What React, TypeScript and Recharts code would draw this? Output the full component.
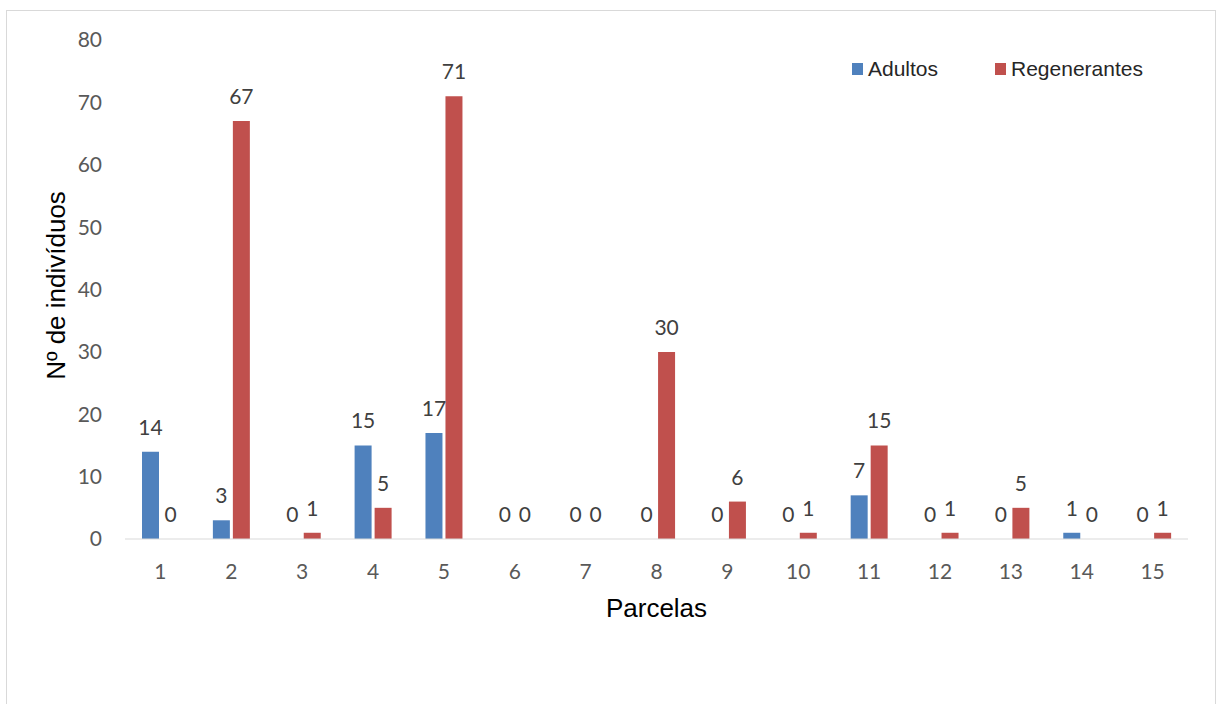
import React from 'react';
import { BarChart, Bar, XAxis, YAxis, Legend, LabelList } from 'recharts';

const parcelas = ['1', '2', '3', '4', '5', '6', '7', '8', '9', '10', '11', '12', '13', '14', '15'];
const adultos = [14, 3, 0, 15, 17, 0, 0, 0, 0, 0, 7, 0, 0, 1, 0];
const regenerantes = [0, 67, 1, 5, 71, 0, 0, 30, 6, 1, 15, 1, 5, 0, 1];
const yTicks = [0, 10, 20, 30, 40, 50, 60, 70, 80];

const data = parcelas.map((p, i) => ({ parcela: p, Adultos: adultos[i], Regenerantes: regenerantes[i] }));

const numFont = 'Lato, "Open Sans", sans-serif';
const textFont = '"Liberation Sans", Arial, sans-serif';

const LegendContent = (props: any) => {
  const payload = props.payload || [];
  return (
    <div style={{ display: 'flex', alignItems: 'center' }}>
      {payload.map((item: any, i: number) => (
        <div key={i} style={{ display: 'flex', alignItems: 'center', width: i === 0 ? 143 : 'auto' }}>
          <span style={{ display: 'inline-block', width: 11, height: 12, background: item.color, marginRight: 5 }} />
          <span style={{ fontFamily: textFont, fontSize: 21, color: '#262626' }}>{item.value}</span>
        </div>
      ))}
    </div>
  );
};

const YTitle = (props: any) => {
  const vb = props.viewBox || { x: 0, y: 0, width: 0, height: 0 };
  const cx = vb.x + 65;
  const cy = vb.y + vb.height / 2 - 4;
  return (
    <text x={cx} y={cy} textAnchor="middle" fill="#000" fontSize={26} fontFamily={textFont} transform={`rotate(-90 ${cx} ${cy})`}>
      Nº de indivíduos
    </text>
  );
};

const BarValueLabel = (props: any) => {
  const { x, y, width, value, offset } = props;
  if (value === undefined || value === null) return null;
  return (
    <text x={Number(x) + Number(width) / 2} y={Number(y) - (offset ?? 17)} textAnchor="middle" fill="#404040" fontSize={21} fontFamily={numFont}>
      {value}
    </text>
  );
};

export default function App() {
  return (
    <div style={{ position: 'absolute', left: 0, top: 0, width: 1217, height: 704, background: '#fff', overflow: 'hidden' }}>
      <div style={{ position: 'absolute', left: 6, top: 10, width: 1210, height: 720, border: '1px solid #d9d9d9', boxSizing: 'border-box' }} />
      <div style={{ position: 'absolute', left: 0, top: 0 }}>
        <BarChart width={1217} height={704} data={data} margin={{ top: 40, right: 29, bottom: 87, left: 0 }} barGap={3} barSize={17}>
          <XAxis
            dataKey="parcela"
            height={78}
            axisLine={{ stroke: '#d9d9d9', strokeWidth: 1 }}
            tickLine={false}
            tickSize={0}
            tickMargin={25}
            tick={{ fill: '#595959', fontSize: 21, fontFamily: numFont }}
            label={{ value: 'Parcelas', position: 'insideBottom', offset: 0, fill: '#000', fontSize: 26, fontFamily: textFont }}
          />
          <YAxis
            width={125}
            domain={[0, 80]}
            ticks={yTicks}
            axisLine={false}
            tickLine={false}
            tickSize={0}
            tickMargin={23}
            tick={{ fill: '#595959', fontSize: 21, fontFamily: numFont }}
            label={{ content: YTitle }}
          />
          <Legend
            layout="horizontal"
            verticalAlign="middle"
            align="center"
            content={LegendContent}
            wrapperStyle={{ position: 'absolute', top: 57, left: 852, width: 340 }}
          />
          <Bar dataKey="Adultos" fill="#4f81bd" minPointSize={0.01} isAnimationActive={false}>
            <LabelList dataKey="Adultos" position="top" offset={17} content={BarValueLabel} />
          </Bar>
          <Bar dataKey="Regenerantes" fill="#c0504d" minPointSize={0.01} isAnimationActive={false}>
            <LabelList dataKey="Regenerantes" position="top" offset={17} content={BarValueLabel} />
          </Bar>
        </BarChart>
      </div>
    </div>
  );
}
